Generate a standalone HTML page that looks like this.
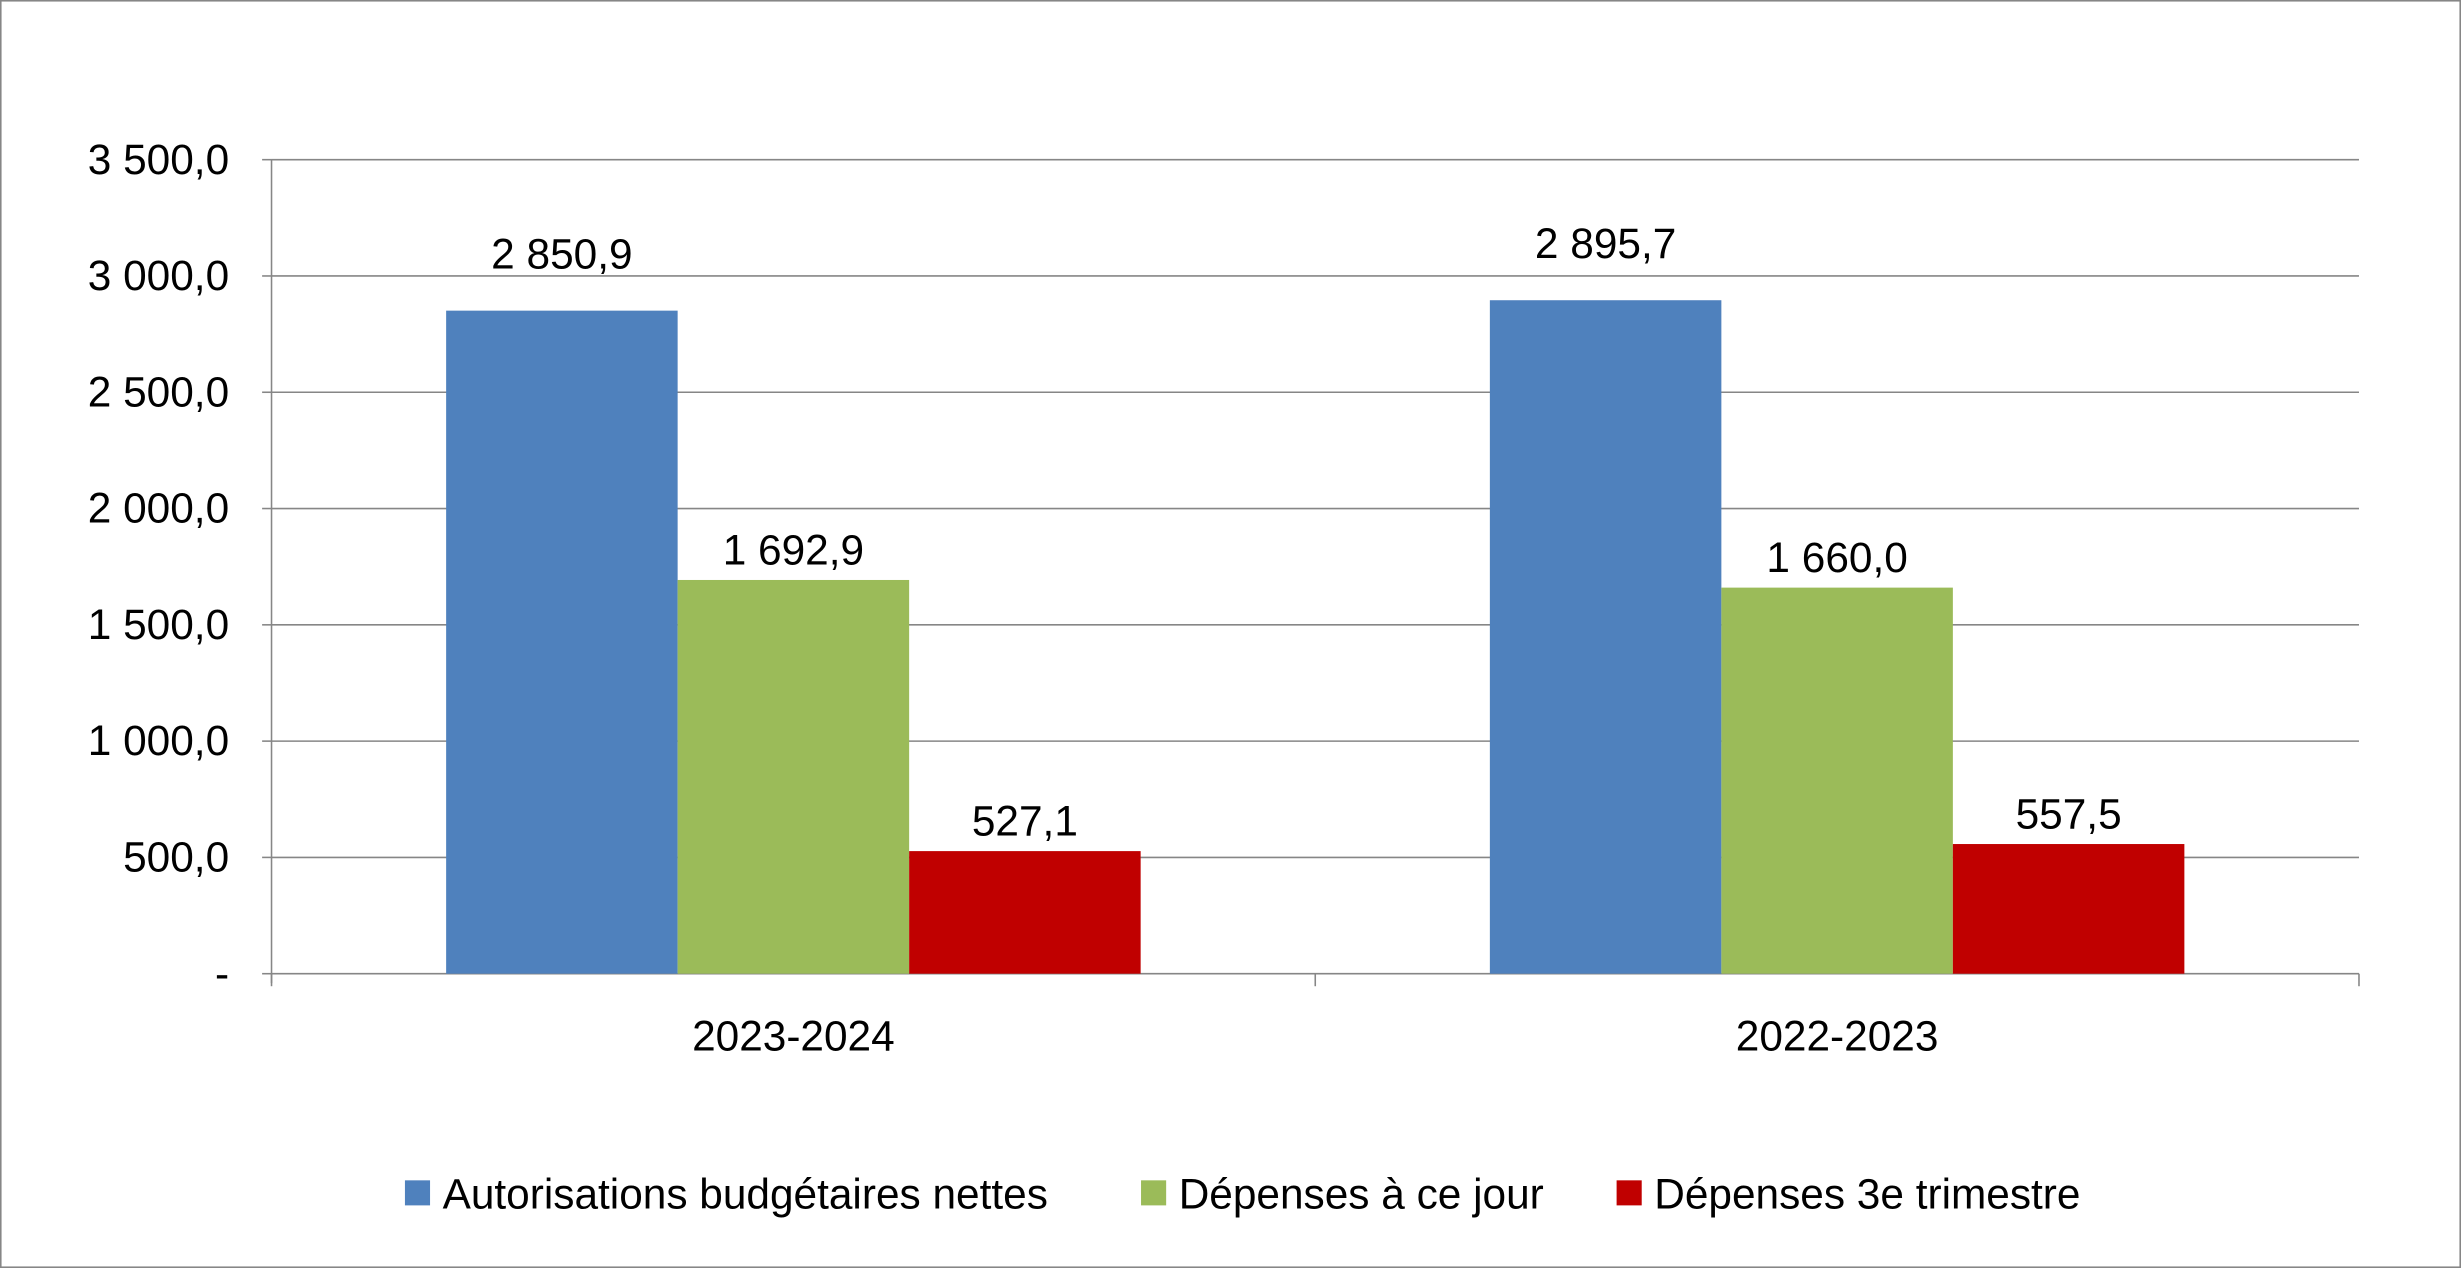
<!DOCTYPE html>
<html><head><meta charset="utf-8"><style>
html,body{margin:0;padding:0;background:#fff}
svg{display:block}
text{font-family:"Liberation Sans",sans-serif;fill:#000}
</style></head><body>
<svg id="chart" width="2461" height="1268" viewBox="0 0 1568 810" preserveAspectRatio="none" xmlns="http://www.w3.org/2000/svg">
<rect x="0.5" y="0.5" width="1567" height="809" fill="#fff" stroke="#868686" stroke-width="1"/>
<g id="grid"></g><g id="bars"></g><g id="labels"></g>
<g id="legend"></g>
</svg>
<script>
const categories = ["2023-2024", "2022-2023"];
const seriesNames = ["Autorisations budgétaires nettes", "Dépenses à ce jour", "Dépenses 3e trimestre"];
const autorisations = [2850.9, 2895.7];
const depenses = [1692.9, 1660.0];
const trimestre = [527.1, 557.5];
const yTicks = [0, 500, 1000, 1500, 2000, 2500, 3000, 3500];
const yTickLabels = ["-", "500,0", "1 000,0", "1 500,0", "2 000,0", "2 500,0", "3 000,0", "3 500,0"];

const NS = "http://www.w3.org/2000/svg";
const colors = ["#4f81bd", "#9bbb59", "#c00000"];
const labelOffsets = [27, 10, 10];
const series = [autorisations, depenses, trimestre];
const FS = 27;
const x0 = 173, x1 = 1503, yBase = 622, yTop = 102, yMax = 3500;
const y = v => yBase - (v / yMax) * (yBase - yTop);
const catW = (x1 - x0) / categories.length;
const barW = 147.5;
const catX = i => x0 + i * catW;
function mk(tag, attrs, parent) {
  const e = document.createElementNS(NS, tag);
  for (const k in attrs) e.setAttribute(k, attrs[k]);
  parent.appendChild(e); return e;
}
const fmt = v => { const s = v.toFixed(1).replace('.', ','); const [a, b] = s.split(','); return a.replace(/\B(?=(\d{3})+(?!\d))/g, ' ') + ',' + b; };
const grid = document.getElementById('grid');
yTicks.forEach((t, i) => {
  if (t > 0) {
    const l = mk('line', {x1: x0, x2: x1, y1: y(t), y2: y(t), stroke: '#868686', 'stroke-width': 1}, grid);
    
    
  }
  const tk = mk('line', {x1: x0 - 6, x2: x0, y1: y(t), y2: y(t), stroke: '#868686'}, grid);
  
  
  const tx = mk('text', {x: 146, y: y(t) + 9, 'text-anchor': 'end', 'font-size': FS}, grid);
  tx.textContent = yTickLabels[i];
  
  
});
const ax = mk('line', {x1: x0, x2: x0, y1: yTop, y2: yBase + 6, stroke: '#868686'}, grid);


const xa = mk('line', {x1: x0, x2: x1, y1: yBase, y2: yBase, stroke: '#868686'}, grid);


for (let i = 0; i <= categories.length; i++) {
  const t = mk('line', {x1: catX(i), x2: catX(i), y1: yBase, y2: yBase + 8, stroke: '#868686'}, grid);
  
  
}
const bars = document.getElementById('bars'), labels = document.getElementById('labels');
categories.forEach((c, i) => {
  const start = catX(i) + (catW - 3 * barW) / 2;
  series.forEach((s, j) => {
    const bx = start + j * barW;
    const r = mk('rect', {x: bx, y: y(s[i]), width: barW, height: yBase - y(s[i]), fill: colors[j]}, bars);
    
    
    const t = mk('text', {x: bx + barW / 2, y: y(s[i]) - labelOffsets[j], 'text-anchor': 'middle', 'font-size': FS}, labels);
    t.textContent = fmt(s[i]);
    
    
  });
  const cl = mk('text', {x: catX(i) + catW / 2, y: 671, 'text-anchor': 'middle', 'font-size': FS}, labels);
  cl.textContent = c;
  
  
});
const legend = document.getElementById('legend');
const lx = [258, 727, 1030];
seriesNames.forEach((n, j) => {
  const sq = mk('rect', {x: lx[j], y: 754, width: 16, height: 16, fill: colors[j]}, legend);
  
  
  const t = mk('text', {x: lx[j] + 24, y: 772, 'font-size': FS}, legend);
  t.textContent = n;
  
  
});
</script>
</body></html>
